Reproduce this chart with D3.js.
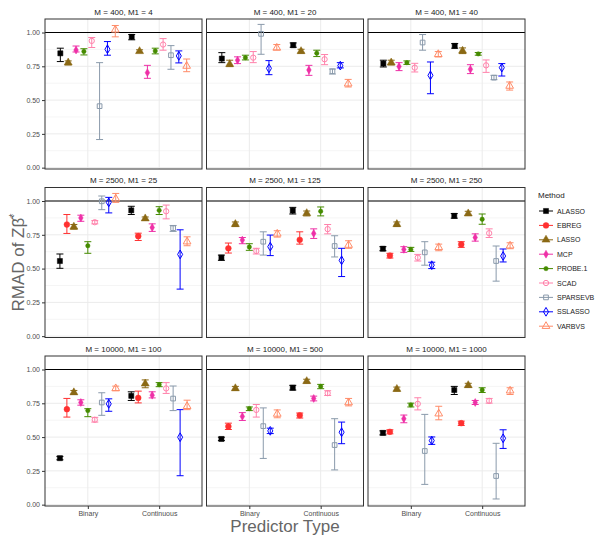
<!DOCTYPE html>
<html><head><meta charset="utf-8">
<script src="https://cdn.jsdelivr.net/npm/d3@7"></script>
<style>body{margin:0;background:#fff}svg{display:block;font-family:"Liberation Sans",Arial,sans-serif}</style>
</head><body><svg id="c" width="600" height="540"></svg>
<script>
const methods = ["ALASSO","EBREG","LASSO","MCP","PROBE.1","SCAD","SPARSEVB","SSLASSO","VARBVS"];
const types = ["Binary","Continuous"];
const panelTitles = ["M = 400, M1 = 4","M = 400, M1 = 20","M = 400, M1 = 40",
  "M = 2500, M1 = 25","M = 2500, M1 = 125","M = 2500, M1 = 250",
  "M = 10000, M1 = 100","M = 10000, M1 = 500","M = 10000, M1 = 1000"];
const yTicks = [0, 0.25, 0.5, 0.75, 1];
const yMinor = [0.125, 0.375, 0.625, 0.875];

// rows: [method, type, estimate, lower, upper]
const m400_4 = [
 ["ALASSO","Binary",0.846,0.785,0.884],["LASSO","Binary",0.777,0.760,0.790],["MCP","Binary",0.870,0.856,0.900],
 ["PROBE.1","Binary",0.860,0.834,0.880],["SCAD","Binary",0.938,0.889,0.963],["SPARSEVB","Binary",0.455,0.208,0.777],
 ["SSLASSO","Binary",0.876,0.832,0.933],["VARBVS","Binary",1.020,0.968,1.052],
 ["ALASSO","Continuous",0.968,0.946,0.985],["LASSO","Continuous",0.861,0.850,0.872],["MCP","Continuous",0.703,0.661,0.757],
 ["PROBE.1","Continuous",0.864,0.842,0.884],["SCAD","Continuous",0.911,0.869,0.955],["SPARSEVB","Continuous",0.832,0.728,0.903],
 ["SSLASSO","Continuous",0.827,0.775,0.864],["VARBVS","Continuous",0.752,0.710,0.804]];
const m400_20 = [
 ["ALASSO","Binary",0.807,0.777,0.851],["LASSO","Binary",0.765,0.748,0.795],["MCP","Binary",0.795,0.770,0.820],
 ["PROBE.1","Binary",0.814,0.797,0.832],["SCAD","Binary",0.814,0.777,0.859],["SPARSEVB","Binary",0.990,0.839,1.060],
 ["SSLASSO","Binary",0.735,0.688,0.792],["VARBVS","Binary",0.886,0.871,0.911],
 ["ALASSO","Continuous",0.906,0.891,0.923],["LASSO","Continuous",0.861,0.846,0.876],["MCP","Continuous",0.723,0.683,0.757],
 ["PROBE.1","Continuous",0.847,0.822,0.869],["SCAD","Continuous",0.802,0.762,0.837],["SPARSEVB","Continuous",0.713,0.693,0.730],
 ["SSLASSO","Continuous",0.755,0.738,0.777],["VARBVS","Continuous",0.621,0.597,0.653]];
const m400_40 = [
 ["ALASSO","Binary",0.770,0.745,0.795],["LASSO","Binary",0.777,0.760,0.795],["MCP","Binary",0.748,0.718,0.777],
 ["PROBE.1","Binary",0.777,0.764,0.790],["SCAD","Binary",0.740,0.708,0.772],["SPARSEVB","Binary",0.926,0.869,0.985],
 ["SSLASSO","Binary",0.683,0.547,0.782],["VARBVS","Binary",0.839,0.819,0.859],
 ["ALASSO","Continuous",0.901,0.884,0.918],["LASSO","Continuous",0.864,0.844,0.886],["MCP","Continuous",0.728,0.696,0.762],
 ["PROBE.1","Continuous",0.842,0.832,0.852],["SCAD","Continuous",0.757,0.705,0.797],["SPARSEVB","Continuous",0.666,0.651,0.683],
 ["SSLASSO","Continuous",0.740,0.678,0.770],["VARBVS","Continuous",0.604,0.574,0.634]];
const m2500_25 = [
 ["ALASSO","Binary",0.556,0.502,0.608],["EBREG","Binary",0.826,0.760,0.900],["LASSO","Binary",0.809,0.792,0.826],
 ["MCP","Binary",0.875,0.850,0.895],["PROBE.1","Binary",0.669,0.613,0.699],["SCAD","Binary",0.843,0.831,0.855],
 ["SPARSEVB","Binary",0.998,0.936,1.037],["SSLASSO","Binary",0.990,0.912,1.027],["VARBVS","Binary",1.017,0.990,1.056],
 ["ALASSO","Continuous",0.931,0.900,0.961],["EBREG","Continuous",0.740,0.708,0.762],["LASSO","Continuous",0.870,0.857,0.882],
 ["MCP","Continuous",0.804,0.775,0.831],["PROBE.1","Continuous",0.931,0.900,0.958],["SCAD","Continuous",0.924,0.868,0.970],
 ["SPARSEVB","Continuous",0.799,0.775,0.819],["SSLASSO","Continuous",0.605,0.348,0.787],["VARBVS","Continuous",0.699,0.669,0.735]];
const m2500_125 = [
 ["ALASSO","Binary",0.581,0.561,0.600],["EBREG","Binary",0.650,0.615,0.689],["LASSO","Binary",0.828,0.811,0.845],
 ["MCP","Binary",0.711,0.684,0.730],["PROBE.1","Binary",0.660,0.635,0.684],["SCAD","Binary",0.630,0.608,0.650],
 ["SPARSEVB","Binary",0.699,0.600,0.772],["SSLASSO","Binary",0.662,0.596,0.748],["VARBVS","Binary",0.757,0.733,0.780],
 ["ALASSO","Continuous",0.929,0.904,0.953],["EBREG","Continuous",0.713,0.681,0.772],["LASSO","Continuous",0.909,0.890,0.926],
 ["MCP","Continuous",0.760,0.723,0.794],["PROBE.1","Continuous",0.924,0.890,0.956],["SCAD","Continuous",0.792,0.757,0.826],
 ["SPARSEVB","Continuous",0.667,0.586,0.743],["SSLASSO","Continuous",0.561,0.441,0.650],["VARBVS","Continuous",0.674,0.650,0.706]];
const m2500_250 = [
 ["ALASSO","Binary",0.647,0.632,0.662],["EBREG","Binary",0.596,0.578,0.613],["LASSO","Binary",0.828,0.811,0.845],
 ["MCP","Binary",0.642,0.620,0.662],["PROBE.1","Binary",0.642,0.627,0.657],["SCAD","Binary",0.581,0.556,0.605],
 ["SPARSEVB","Binary",0.620,0.525,0.699],["SSLASSO","Binary",0.525,0.500,0.547],["VARBVS","Binary",0.657,0.632,0.681],
 ["ALASSO","Continuous",0.890,0.873,0.907],["EBREG","Continuous",0.679,0.657,0.699],["LASSO","Continuous",0.907,0.892,0.924],
 ["MCP","Continuous",0.730,0.703,0.757],["PROBE.1","Continuous",0.865,0.828,0.904],["SCAD","Continuous",0.762,0.730,0.794],
 ["SPARSEVB","Continuous",0.556,0.407,0.667],["SSLASSO","Continuous",0.593,0.549,0.645],["VARBVS","Continuous",0.669,0.647,0.691]];
const m10000_100 = [
 ["ALASSO","Binary",0.344,0.332,0.357],["EBREG","Binary",0.706,0.648,0.786],["LASSO","Binary",0.830,0.815,0.845],
 ["MCP","Binary",0.756,0.736,0.776],["PROBE.1","Binary",0.696,0.651,0.710],["SCAD","Binary",0.628,0.611,0.646],
 ["SPARSEVB","Binary",0.756,0.661,0.828],["SSLASSO","Binary",0.746,0.691,0.783],["VARBVS","Binary",0.860,0.843,0.877],
 ["ALASSO","Continuous",0.805,0.771,0.835],["EBREG","Continuous",0.790,0.753,0.840],["LASSO","Continuous",0.895,0.865,0.923],
 ["MCP","Continuous",0.810,0.790,0.835],["PROBE.1","Continuous",0.888,0.873,0.903],["SCAD","Continuous",0.860,0.823,0.903],
 ["SPARSEVB","Continuous",0.785,0.696,0.878],["SSLASSO","Continuous",0.499,0.214,0.703],["VARBVS","Continuous",0.728,0.703,0.773]];
const m10000_500 = [
 ["ALASSO","Binary",0.486,0.474,0.499],["EBREG","Binary",0.579,0.556,0.603],["LASSO","Binary",0.860,0.845,0.875],
 ["MCP","Binary",0.653,0.623,0.681],["PROBE.1","Binary",0.711,0.696,0.723],["SCAD","Binary",0.701,0.648,0.741],
 ["SPARSEVB","Binary",0.581,0.342,0.716],["SSLASSO","Binary",0.546,0.526,0.566],["VARBVS","Binary",0.671,0.643,0.701],
 ["ALASSO","Continuous",0.865,0.848,0.883],["EBREG","Continuous",0.661,0.641,0.678],["LASSO","Continuous",0.913,0.898,0.928],
 ["MCP","Continuous",0.786,0.768,0.803],["PROBE.1","Continuous",0.875,0.858,0.890],["SCAD","Continuous",0.825,0.808,0.843],
 ["SPARSEVB","Continuous",0.441,0.257,0.636],["SSLASSO","Continuous",0.536,0.451,0.611],["VARBVS","Continuous",0.756,0.731,0.786]];
const m10000_1000 = [
 ["ALASSO","Binary",0.531,0.516,0.546],["EBREG","Binary",0.539,0.524,0.554],["LASSO","Binary",0.855,0.840,0.870],
 ["MCP","Binary",0.636,0.606,0.663],["PROBE.1","Binary",0.738,0.723,0.751],["SCAD","Binary",0.746,0.701,0.791],
 ["SPARSEVB","Binary",0.397,0.150,0.668],["SSLASSO","Binary",0.474,0.446,0.501],["VARBVS","Binary",0.673,0.628,0.728],
 ["ALASSO","Continuous",0.848,0.815,0.875],["EBREG","Continuous",0.603,0.586,0.618],["LASSO","Continuous",0.883,0.868,0.898],
 ["MCP","Continuous",0.756,0.741,0.771],["PROBE.1","Continuous",0.848,0.830,0.865],["SCAD","Continuous",0.768,0.751,0.786],
 ["SPARSEVB","Continuous",0.212,0.042,0.454],["SSLASSO","Continuous",0.491,0.416,0.554],["VARBVS","Continuous",0.843,0.815,0.865]];
const panelData = [m400_4, m400_20, m400_40, m2500_25, m2500_125, m2500_250, m10000_100, m10000_500, m10000_1000];

// styles
const colors = {"ALASSO":"#000000","EBREG":"#FF3030","LASSO":"#8B6914","MCP":"#EE30A7","PROBE.1":"#458B00",
  "SCAD":"#FF82AB","SPARSEVB":"#8A9AAB","SSLASSO":"#0000FF","VARBVS":"#FF8C69"};
const shapes = {"ALASSO":[d3.symbolSquare,26,true],"EBREG":[d3.symbolCircle,26,true],"LASSO":[d3.symbolTriangle,28,true],
  "MCP":[d3.symbolDiamond,18,true],"PROBE.1":[d3.symbolCircle,15,true],"SCAD":[d3.symbolCircle,22,false],
  "SPARSEVB":[d3.symbolSquare,22,false],"SSLASSO":[d3.symbolDiamond,22,false],"VARBVS":[d3.symbolTriangle,26,false]};

const svg = d3.select("#c");
const colLeft = [45, 206.5, 368], pw = 157;
const rowTop = [19, 187.5, 356], ph = 150;
const dodgeW = 0.88, capW = 7;

function drawSymbol(g, m, x, y) {
  const [t, s, filled] = shapes[m];
  g.append("path").attr("d", d3.symbol().type(t).size(s)())
    .attr("transform", `translate(${x},${y})`)
    .attr("fill", filled ? colors[m] : "none")
    .attr("stroke", colors[m]).attr("stroke-width", filled ? 0.5 : 1);
}

panelData.forEach((rows, pi) => {
  const r = Math.floor(pi / 3), c = pi % 3;
  const L = colLeft[c], T = rowTop[r];
  const x = d3.scalePoint().domain(types).range([L, L + pw]).padding(0.6);
  const y = d3.scaleLinear().domain([-0.01, 1.1]).range([T + ph, T]);
  const g = svg.append("g");
  yMinor.forEach(v => g.append("line").attr("x1", L).attr("x2", L + pw).attr("y1", y(v)).attr("y2", y(v))
    .attr("stroke", "#f3f3f3").attr("stroke-width", 0.8));
  yTicks.forEach(v => g.append("line").attr("x1", L).attr("x2", L + pw).attr("y1", y(v)).attr("y2", y(v))
    .attr("stroke", "#ebebeb").attr("stroke-width", 1));
  types.forEach(t => g.append("line").attr("x1", x(t)).attr("x2", x(t)).attr("y1", T).attr("y2", T + ph)
    .attr("stroke", "#ebebeb").attr("stroke-width", 1));
  g.append("line").attr("x1", L).attr("x2", L + pw).attr("y1", y(1)).attr("y2", y(1))
    .attr("stroke", "#000").attr("stroke-width", 1.1);
  g.append("text").attr("x", L + pw / 2).attr("y", T - 4.5).attr("text-anchor", "middle")
    .attr("font-size", 8).attr("fill", "#1a1a1a").text(panelTitles[pi]);
  const present = methods.filter(m => rows.some(d => d[0] === m));
  const n = present.length, step = x.step();
  const xpos = d => x(d[1]) + (present.indexOf(d[0]) - (n - 1) / 2) * (dodgeW / n) * step;
  rows.forEach(d => {
    const cx = xpos(d), col = colors[d[0]];
    g.append("line").attr("x1", cx).attr("x2", cx).attr("y1", y(d[3])).attr("y2", y(d[4])).attr("stroke", col).attr("stroke-width", 1);
    [d[3], d[4]].forEach(v => g.append("line").attr("x1", cx - capW / 2).attr("x2", cx + capW / 2)
      .attr("y1", y(v)).attr("y2", y(v)).attr("stroke", col).attr("stroke-width", 1));
  });
  rows.forEach(d => drawSymbol(g, d[0], xpos(d), y(d[2])));
  g.append("rect").attr("x", L).attr("y", T).attr("width", pw).attr("height", ph)
    .attr("fill", "none").attr("stroke", "#333").attr("stroke-width", 1);
  if (c === 0) {
    const ax = g.append("g").attr("transform", `translate(${L},0)`)
      .call(d3.axisLeft(y).tickValues(yTicks).tickFormat(d3.format(".2f")).tickSize(3).tickPadding(2));
    ax.select(".domain").remove();
    ax.selectAll("line").attr("stroke", "#333");
    ax.selectAll("text").attr("font-size", 7).attr("fill", "#4d4d4d").attr("font-family", "Liberation Sans, Arial, sans-serif");
  }
  if (r === 2) {
    const ax = g.append("g").attr("transform", `translate(0,${T + ph})`)
      .call(d3.axisBottom(x).tickSize(3).tickPadding(2));
    ax.select(".domain").remove();
    ax.selectAll("line").attr("stroke", "#333");
    ax.selectAll("text").attr("font-size", 7).attr("fill", "#4d4d4d").attr("font-family", "Liberation Sans, Arial, sans-serif");
  }
});

svg.append("text").attr("x", (colLeft[0] + colLeft[2] + pw) / 2).attr("y", 532).attr("text-anchor", "middle")
  .attr("font-size", 17).attr("fill", "#666").text("Predictor Type");
const yt = svg.append("text").attr("transform", `translate(24,${(rowTop[0] + rowTop[2] + ph) / 2}) rotate(-90)`)
  .attr("text-anchor", "middle").attr("font-size", 17).attr("fill", "#666");
yt.append("tspan").text("RMAD of Z\u03B2\u0302");
yt.append("tspan").attr("dy", -7).attr("font-size", 11).text("*");

const lg = svg.append("g");
lg.append("text").attr("x", 538).attr("y", 198).attr("font-size", 8).attr("fill", "#1a1a1a").text("Method");
methods.forEach((m, i) => {
  const yy = 211 + i * 14.4;
  lg.append("line").attr("x1", 539).attr("x2", 553).attr("y1", yy).attr("y2", yy).attr("stroke", colors[m]).attr("stroke-width", 1);
  drawSymbol(lg, m, 546, yy);
  lg.append("text").attr("x", 557).attr("y", yy + 2.5).attr("font-size", 7).attr("fill", "#1a1a1a").text(m);
});
</script></body></html>
